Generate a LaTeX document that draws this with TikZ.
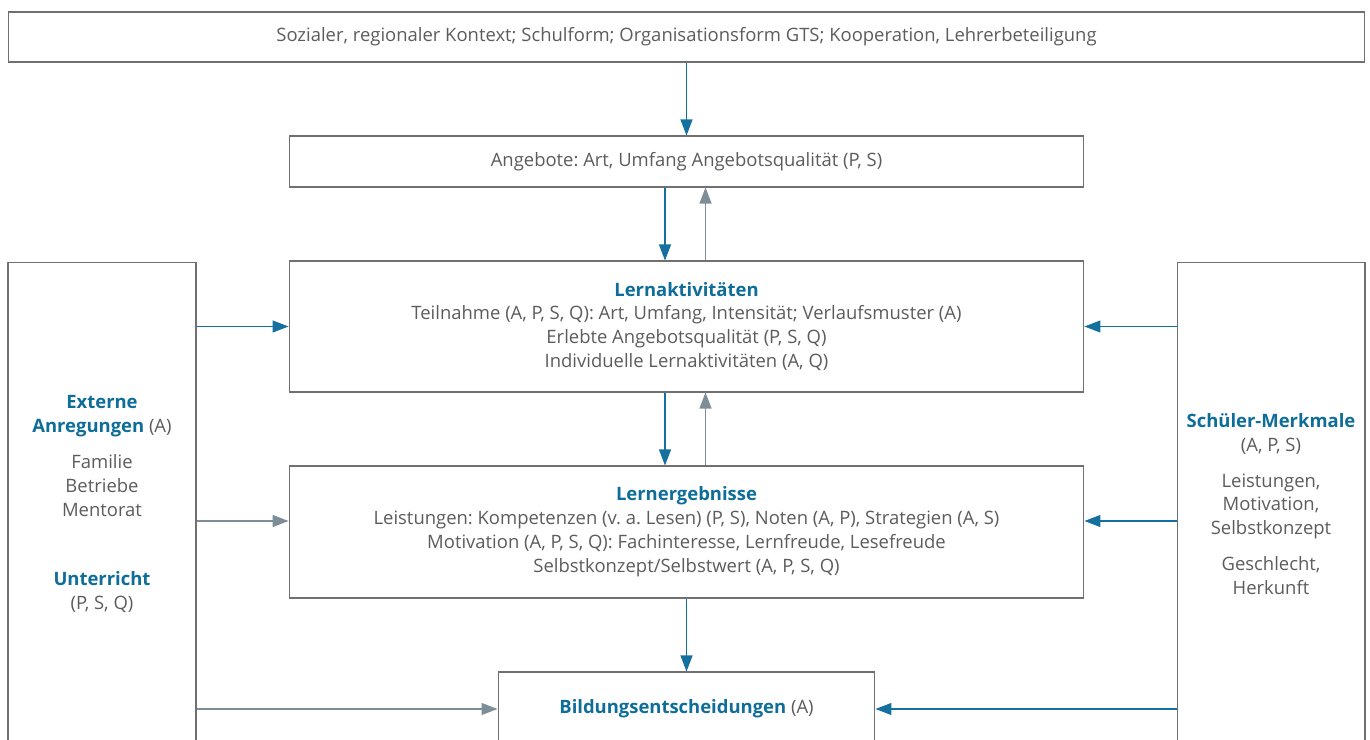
\documentclass[tikz,border=0pt]{standalone}
\usepackage{fontspec}
\setmainfont{Open Sans}
\usepackage{tikz}
\usetikzlibrary{arrows.meta}
\definecolor{textgray}{HTML}{5C5C5C}
\definecolor{headblue}{HTML}{0E6D99}
\definecolor{arrowblue}{HTML}{14709F}
\definecolor{arrowgray}{HTML}{7E8E98}
\definecolor{framegray}{HTML}{707070}
\newcommand{\head}[1]{\textbf{\color{headblue}#1}}
\frenchspacing

\begin{document}
\begin{tikzpicture}[x=0.02cm,y=-0.02cm,
	every node/.style={font=\fontsize{10.5}{13.6}\selectfont,text=textgray,align=center},
	frame/.style={draw=framegray,semithick,inner sep=0pt},
	bluearrow/.style={-{Triangle[length=3.2mm,width=2.4mm]},arrowblue,semithick},
	grayarrow/.style={-{Triangle[length=3.2mm,width=2.4mm]},arrowgray,semithick}]
	\useasboundingbox (0,0) rectangle (1370,740);
	\clip (0,0) rectangle (1370,740);
	%boxes
	\node[frame,minimum width=27.14cm,minimum height=1cm] (kontext) at (686.5,37)
		{Sozialer, regionaler Kontext; Schulform; Organisationsform GTS; Kooperation, Lehrerbeteiligung};
	\node[frame,minimum width=15.9cm,minimum height=1.02cm] (angebote) at (686.5,161.5)
		{Angebote: Art, Umfang Angebotsqualität (P, S)};
	\node[frame,minimum width=15.9cm,minimum height=2.62cm] (aktiv) at (686.5,326.5)
		{\head{Lernaktivitäten}\\
		Teilnahme (A, P, S, Q): Art, Umfang, Intensität; Verlaufsmuster (A)\\
		Erlebte Angebotsqualität (P, S, Q)\\
		Individuelle Lernaktivitäten (A, Q)};
	\node[frame,minimum width=15.9cm,minimum height=2.64cm] (ergebnis) at (686.5,532)
		{\head{Lernergebnisse}\\
		Leistungen: Kompetenzen (v. a. Lesen) (P, S), Noten (A, P), Strategien (A, S)\\
		Motivation (A, P, S, Q): Fachinteresse, Lernfreude, Lesefreude\\
		Selbstkonzept/Selbstwert (A, P, S, Q)};
	\node[frame,minimum width=7.54cm,minimum height=1.48cm] (bildung) at (686.5,709)
		{\head{Bildungsentscheidungen} (A)};
	
	\node[frame,minimum width=3.76cm,minimum height=9.68cm] (extern) at (102,504)
		{\head{Externe}\\
		\head{Anregungen} (A)\\[6.8pt]
		Familie\\
		Betriebe\\
		Mentorat\\[26pt]
		\head{Unterricht}\\
		(P, S, Q)};
	\node[frame,minimum width=3.76cm,minimum height=9.68cm] (schueler) at (1271,504)
		{\head{Schüler-Merkmale}\\
		(A, P, S)\\[6.8pt]
		Leistungen,\\
		Motivation,\\
		Selbstkonzept\\[6.8pt]
		Geschlecht,\\
		Herkunft};
	
	%arrows
	\draw[bluearrow] (kontext.south -| angebote.north) -- (angebote.north);			%kontext--angebote
	\draw[bluearrow] ([xshift=-4.3mm]angebote.south) -- ([xshift=-4.3mm]aktiv.north);	%angebote--aktiv
	\draw[grayarrow] ([xshift=3.8mm]aktiv.north) -- ([xshift=3.8mm]angebote.south);		%aktiv--angebote
	\draw[bluearrow] ([xshift=-4.3mm]aktiv.south) -- ([xshift=-4.3mm]ergebnis.north);	%aktiv--ergebnis
	\draw[grayarrow] ([xshift=3.8mm]ergebnis.north) -- ([xshift=3.8mm]aktiv.south);		%ergebnis--aktiv
	\draw[bluearrow] (ergebnis.south) -- (bildung.north);								%ergebnis--bildung
	%
	\draw[bluearrow] (aktiv.west -| extern.east) -- (aktiv.west);						%extern--aktiv
	\draw[grayarrow] ([yshift=2.2mm]ergebnis.west -| extern.east) -- ([yshift=2.2mm]ergebnis.west);	%extern--ergebnis
	\draw[grayarrow] (bildung.west -| extern.east) -- (bildung.west);					%extern--bildung
	\draw[bluearrow] (aktiv.east -| schueler.west) -- (aktiv.east);						%schueler--aktiv
	\draw[bluearrow] ([yshift=2.2mm]ergebnis.east -| schueler.west) -- ([yshift=2.2mm]ergebnis.east);	%schueler--ergebnis
	\draw[bluearrow] (bildung.east -| schueler.west) -- (bildung.east);					%schueler--bildung
\end{tikzpicture}
\end{document}
